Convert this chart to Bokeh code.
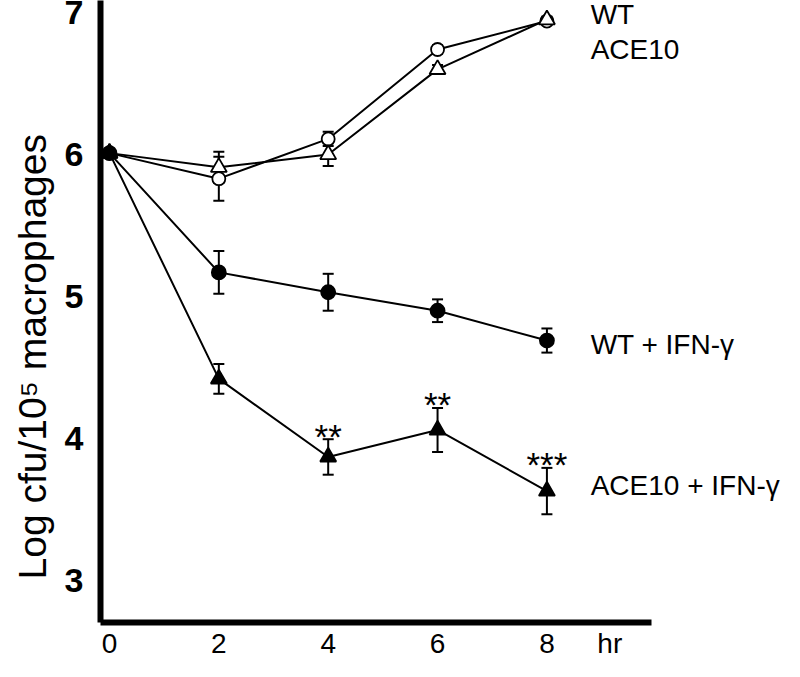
from bokeh.plotting import figure
from bokeh.models import ColumnDataSource, FixedTicker, Label, Range1d, Title
from bokeh.embed import file_html
from bokeh.resources import INLINE
from bokeh.core.properties import value

# ---- data ----
hours = [0, 2, 4, 6, 8]
wt = [6.01, 5.83, 6.11, 6.74, 6.94]
wt_err = [0.0, 0.155, 0.05, 0.03, 0.02]
ace10 = [6.01, 5.91, 6.00, 6.60, 6.95]
ace10_err = [0.0, 0.11, 0.08, 0.03, 0.02]
wt_ifn = [6.01, 5.17, 5.03, 4.90, 4.69]
wt_ifn_err = [0.0, 0.15, 0.13, 0.08, 0.085]
ace10_ifn = [6.01, 4.42, 3.87, 4.06, 3.63]
ace10_ifn_err = [0.0, 0.105, 0.125, 0.155, 0.163]
ace10_ifn_sig = ["", "", "**", "**", "***"]

x_ticks = [0, 2, 4, 6, 8]
y_ticks = [3, 4, 5, 6, 7]
x_unit = "hr"
x_unit_pos = 9.15
y_title = "Log cfu/10\u2075 macrophages"
series_labels = ["WT", "ACE10", "WT + IFN-\u03b3", "ACE10 + IFN-\u03b3"]
series_label_y = [6.986, 6.739, 4.662, 3.669]
series_label_x = 8.8

FONT = "Liberation Sans"

p = figure(width=784, height=661, output_backend="svg", toolbar_location=None,
           x_range=Range1d(-0.164, 12.345), y_range=Range1d(2.704, 7.085),
           min_border_left=96, min_border_right=0, min_border_top=0,
           min_border_bottom=39)
p.outline_line_color = None
p.grid.visible = False
p.background_fill_color = "white"

for ax in (p.xaxis[0], p.yaxis[0]):
    ax.axis_line_width = 6
    ax.axis_line_color = "black"
    ax.major_tick_line_color = None
    ax.minor_tick_line_color = None
    ax.major_tick_out = 0
    ax.major_tick_in = 0
    ax.minor_tick_out = 0
    ax.minor_tick_in = 0
    ax.major_label_text_font = FONT
    ax.major_label_text_color = "black"

p.xaxis.bounds = (-0.164, 9.91)
p.xaxis.ticker = FixedTicker(ticks=x_ticks + [x_unit_pos])
p.xaxis.major_label_overrides = {x_unit_pos: x_unit}
p.xaxis.major_label_text_font_size = "28px"
p.xaxis.major_label_standoff = 5

p.yaxis.ticker = FixedTicker(ticks=y_ticks)
p.yaxis.major_label_text_font_size = "34px"
p.yaxis.major_label_text_font_style = "bold"
p.yaxis.major_label_standoff = 17

p.add_layout(Title(text=y_title, text_font=FONT, text_font_size="39px",
                   text_font_style="normal", text_color="black",
                   align="left", offset=43, vertical_align="bottom",
                   standoff=16), "left")

series = [
    (wt, wt_err, "circle", "white", 13),
    (ace10, ace10_err, "triangle", "white", 16),
    (ace10_ifn, ace10_ifn_err, "triangle", "black", 16),
    (wt_ifn, wt_ifn_err, "circle", "black", 14),
]

# error bars
for vals, errs, _, _, _ in series:
    xs = [h for h, e in zip(hours, errs) if e > 0]
    lo = [v - e for v, e in zip(vals, errs) if e > 0]
    hi = [v + e for v, e in zip(vals, errs) if e > 0]
    p.segment(x0=xs, y0=lo, x1=xs, y1=hi, line_color="black", line_width=2)
    p.scatter(x=xs + xs, y=lo + hi, marker="dash", size=11, line_color="black",
              line_width=2)

# lines
for vals, _, _, _, _ in series:
    p.line(x=hours, y=vals, line_color="black", line_width=2)

# markers
for vals, _, marker, fill, size in series:
    p.scatter(x=hours, y=vals, marker=marker, size=size, fill_color=fill,
              line_color="black", line_width=1.8)

# significance asterisks
sig_src = ColumnDataSource(dict(
    x=hours,
    y=[v + e for v, e in zip(ace10_ifn, ace10_ifn_err)],
    t=ace10_ifn_sig,
))
p.text(x="x", y="y", text="t", source=sig_src, text_font=value(FONT),
       text_font_size="35px", text_align="center", text_baseline="alphabetic",
       y_offset=-3, text_color="black")

# series labels on the right
for lab, ly in zip(series_labels, series_label_y):
    p.add_layout(Label(x=series_label_x, y=ly, text=lab, text_font=FONT,
                       text_font_size="28px", text_baseline="middle",
                       text_align="left", text_color="black"))

open("out.html", "w").write(file_html(p, INLINE))
